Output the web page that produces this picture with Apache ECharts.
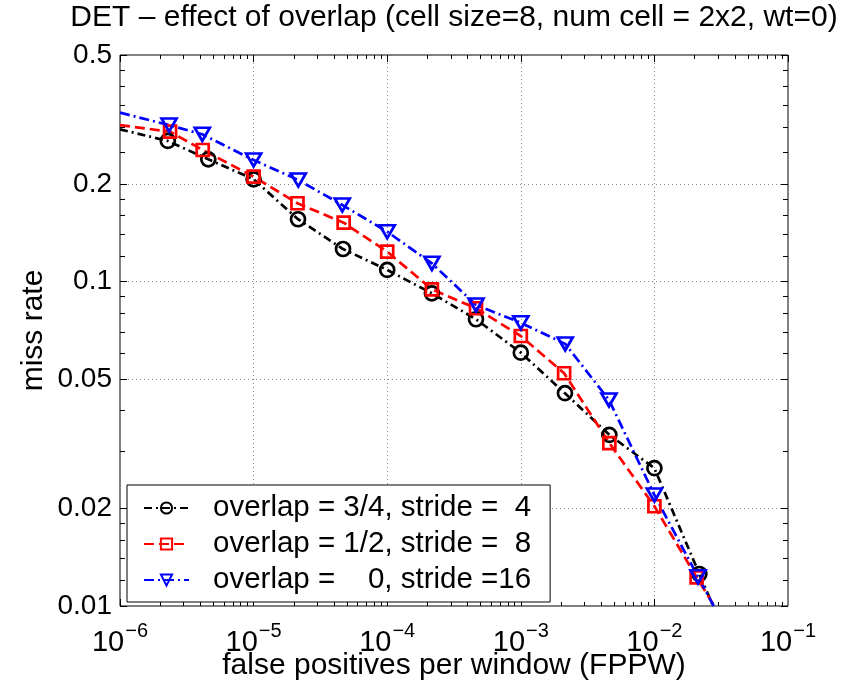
<!DOCTYPE html>
<html><head><meta charset="utf-8">
<style>html,body{margin:0;padding:0;background:#fff}#chart{width:856px;height:682px}</style>
<script src="https://cdn.jsdelivr.net/npm/echarts@6/dist/echarts.min.js"></script>
</head><body><div id="chart"></div>
<script>
// ---- data (first/last points are where the lines meet the frame) ----
const seriesNames = ['overlap = 3/4, stride =  4', 'overlap = 1/2, stride =  8', 'overlap =    0, stride =16'];
const fppwOverlap34 = [1e-6, 2.28e-6, 4.58e-6, 1.0e-5, 2.15e-5, 4.67e-5, 1.0e-4, 2.16e-4, 4.62e-4, 1.0e-3, 2.14e-3, 4.6e-3, 1.0e-2, 2.17e-2, 2.75e-2];
const missOverlap34 = [0.295, 0.2716, 0.2384, 0.2069, 0.1558, 0.1261, 0.1087, 0.0921, 0.0766, 0.0604, 0.0453, 0.0337, 0.0266, 0.01255, 0.01];
const fppwOverlap12 = [1e-6, 2.37e-6, 4.16e-6, 1.0e-5, 2.13e-5, 4.72e-5, 1.0e-4, 2.16e-4, 4.62e-4, 1.0e-3, 2.11e-3, 4.6e-3, 1.0e-2, 2.07e-2, 2.81e-2];
const missOverlap12 = [0.304, 0.290, 0.2547, 0.2108, 0.1745, 0.152, 0.1238, 0.0947, 0.0828, 0.068, 0.0522, 0.0318, 0.0203, 0.01226, 0.01];
const fppwOverlap0 = [1e-6, 2.33e-6, 4.13e-6, 1.0e-5, 2.16e-5, 4.61e-5, 1.0e-4, 2.16e-4, 4.62e-4, 1.0e-3, 2.15e-3, 4.57e-3, 1.0e-2, 2.12e-2, 2.78e-2];
const missOverlap0 = [0.332, 0.304, 0.2847, 0.2372, 0.2059, 0.1724, 0.1426, 0.1139, 0.0848, 0.0747, 0.0643, 0.0432, 0.022, 0.0123, 0.01];

const xMajorTicks = [1e-6, 1e-5, 1e-4, 1e-3, 1e-2, 1e-1];
const xMinorMultipliers = [2, 3, 4, 5, 6, 7, 8, 9];
const yMajorTicks = [0.01, 0.02, 0.05, 0.1, 0.2, 0.5];
const yMinorTicks = [0.012, 0.014, 0.016, 0.018, 0.03, 0.04, 0.06, 0.07, 0.08, 0.09, 0.12, 0.14, 0.16, 0.18, 0.25, 0.3, 0.35, 0.4, 0.45];

const xMinorTicks = [];
xMajorTicks.slice(0, -1).forEach(d => xMinorMultipliers.forEach(m => xMinorTicks.push(+(d * m).toPrecision(3))));

const FONT = 'Liberation Sans';
const X_MIN = 1e-6, X_MAX = 1e-1, Y_MIN = 0.01, Y_MAX = 0.5;

function pairs(xs, ys) {
  return xs.map((x, i) => {
    const item = { value: [x, ys[i]] };
    if (i === 0 || i === xs.length - 1) item.symbol = 'none';
    return item;
  });
}

function xAxisBase(pos, ticks, len, extra) {
  return Object.assign({
    type: 'log', logBase: 10, min: X_MIN, max: X_MAX, position: pos,
    axisLine: { show: false, onZero: false },
    axisTick: { show: true, inside: true, length: len, customValues: ticks, lineStyle: { color: '#000', width: 1 } },
    axisLabel: { show: false },
    splitLine: { show: false },
    minorTick: { show: false }
  }, extra || {});
}
function yAxisBase(pos, ticks, len, extra) {
  return Object.assign({
    type: 'log', logBase: 10, min: Y_MIN, max: Y_MAX, position: pos,
    axisLine: { show: false, onZero: false },
    axisTick: { show: true, inside: true, length: len, customValues: ticks, lineStyle: { color: '#000', width: 1 } },
    axisLabel: { show: false },
    splitLine: { show: false },
    minorTick: { show: false }
  }, extra || {});
}

const gridLine = { show: true, lineStyle: { color: '#888', width: 1, type: [1, 3] } };

const option = {
  animation: false,
  backgroundColor: '#fff',
  textStyle: { fontFamily: FONT, color: '#000' },
  title: {
    text: 'DET \u2013 effect of overlap (cell size=8, num cell = 2x2, wt=0)',
    left: 454, top: 3, textAlign: 'center', padding: 0,
    textStyle: { fontFamily: FONT, fontSize: 30, fontWeight: 'normal', color: '#000' }
  },
  grid: {
    left: 120, right: 68, top: 55, bottom: 76,
    outerBoundsMode: 'none', containLabel: false,
    show: true, borderColor: '#000', borderWidth: 1, backgroundColor: 'transparent'
  },
  legend: {
    orient: 'vertical', left: 127, top: 485,
    padding: [8, 19, 7, 16], itemGap: 6, itemWidth: 45, itemHeight: 14,
    borderColor: '#000', borderWidth: 1, backgroundColor: '#fff',
    data: seriesNames,
    textStyle: { fontFamily: FONT, fontSize: 29.5, color: '#000', lineHeight: 29, padding: [0, 0, 0, 19] }
  },
  xAxis: [
    xAxisBase('bottom', xMajorTicks, 7, {
      name: 'false positives per window (FPPW)', nameLocation: 'middle', nameGap: 45,
      nameMoveOverlap: false,
      nameTextStyle: { fontFamily: FONT, fontSize: 30, color: '#000' },
      axisLabel: {
        show: true, margin: 15, color: '#000',
        formatter: v => '{b|10}{s|\u2212' + (-Math.round(Math.log10(v))) + '}',
        rich: {
          b: { fontFamily: FONT, fontSize: 29, color: '#000' },
          s: { fontFamily: FONT, fontSize: 20, color: '#000', padding: [0, 0, 24, 1] }
        }
      },
      splitLine: gridLine
    }),
    xAxisBase('bottom', xMinorTicks, 4),
    xAxisBase('top', xMajorTicks, 7),
    xAxisBase('top', xMinorTicks, 4)
  ],
  yAxis: [
    yAxisBase('left', yMajorTicks, 7, {
      name: 'miss rate', nameLocation: 'middle', nameGap: 71, nameRotate: 90,
      nameMoveOverlap: false,
      nameTextStyle: { fontFamily: FONT, fontSize: 30, color: '#000' },
      axisLabel: {
        show: true, margin: 8, color: '#000', fontFamily: FONT, fontSize: 28,
        customValues: yMajorTicks,
        formatter: v => String(parseFloat(Number(v).toPrecision(2)))
      },
      splitLine: gridLine
    }),
    yAxisBase('left', yMinorTicks, 5),
    yAxisBase('right', yMajorTicks, 7),
    yAxisBase('right', yMinorTicks, 5)
  ],
  series: [
    {
      name: seriesNames[0], type: 'line', xAxisIndex: 0, yAxisIndex: 0,
      data: pairs(fppwOverlap34, missOverlap34),
      symbol: 'circle', symbolSize: 14, clip: true,
      lineStyle: { color: '#000', width: 2.7, type: [8, 4, 2, 4] },
      itemStyle: { color: 'rgba(255,255,255,0)', borderColor: '#000', borderWidth: 2.7 },
      z: 3
    },
    {
      name: seriesNames[1], type: 'line', xAxisIndex: 0, yAxisIndex: 0,
      data: pairs(fppwOverlap12, missOverlap12),
      symbol: 'rect', symbolSize: 12, clip: true,
      lineStyle: { color: '#ff0000', width: 2.7, type: [10, 5] },
      itemStyle: { color: 'rgba(255,255,255,0)', borderColor: '#ff0000', borderWidth: 2.7 },
      z: 3
    },
    {
      name: seriesNames[2], type: 'line', xAxisIndex: 0, yAxisIndex: 0,
      data: pairs(fppwOverlap0, missOverlap0),
      symbol: 'triangle', symbolRotate: 180, symbolSize: [15, 13], clip: true,
      lineStyle: { color: '#0000ff', width: 2.7, type: [10, 4, 2, 4] },
      itemStyle: { color: 'rgba(255,255,255,0)', borderColor: '#0000ff', borderWidth: 2.7 },
      z: 3
    }
  ]
};

const chart = echarts.init(document.getElementById('chart'), null, { renderer: 'canvas' });
chart.setOption(option);
</script>
</body></html>
